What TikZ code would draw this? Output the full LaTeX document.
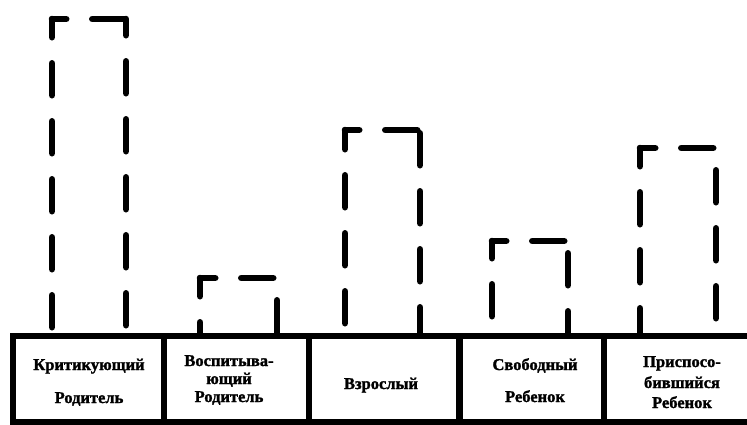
\documentclass[tikz,border=0pt]{standalone}
\usepackage{fontspec}
\setmainfont[BoldFeatures={FakeBold=1.5}]{Liberation Serif}
\newcommand\dashedbar[6]{%
  \draw[dashline, dash phase=#4pt] (#1,#3) -- (#1,333);
  \draw[dashline, dash phase=#5pt] (#1,#3) -- (#2,#3);
  \draw[dashline, dash phase=#6pt] (#2,#3) -- (#2,333);
}
\begin{document}
\begin{tikzpicture}[x=1pt,y=-1pt,
  dashline/.style={line width=6.5pt, line cap=round, dash pattern=on 32pt off 26pt},
  tableline/.style={line width=6.5pt},
  lbl/.style={font=\bfseries\fontsize{16.5}{18}\selectfont, anchor=base, inner sep=0pt}]
\useasboundingbox (0,0) rectangle (747,424);
\clip (0,0) rectangle (747,424);
\fill[white] (0,0) rectangle (747,424);
% bars
\dashedbar{52}{126}{19}{13.75}{17.75}{15.75}
\dashedbar{200}{277}{278}{13.75}{16.75}{35.75}
\dashedbar{345}{420}{130}{12.75}{17.75}{54.75}
\dashedbar{492}{568}{241}{14.75}{17.75}{45.75}
\dashedbar{640}{716}{148}{13.75}{16.75}{35.75}
% table
\draw[tableline] (13,336) rectangle (770,422);
\foreach \xx in {164,309,459.5,604} \draw[tableline] (\xx,336) -- (\xx,422);
% labels
\node[lbl] (c1a) at (89,370) {Критикующий};
\node[lbl] (c1b) at (89,403) {Родитель};
\node[lbl] (c2a) at (229,366) {Воспитыва-};
\node[lbl] (c2b) at (229,384) {ющий};
\node[lbl] (c2c) at (229,402) {Родитель};
\node[lbl] (c3a) at (381,389) {Взрослый};
\node[lbl] (c4a) at (535,370) {Свободный};
\node[lbl] (c4b) at (535,402) {Ребенок};
\node[lbl] (c5a) at (682,367) {Приспосо-};
\node[lbl] (c5b) at (682,388) {бившийся};
\node[lbl] (c5c) at (682,408) {Ребенок};
\end{tikzpicture}
\end{document}
